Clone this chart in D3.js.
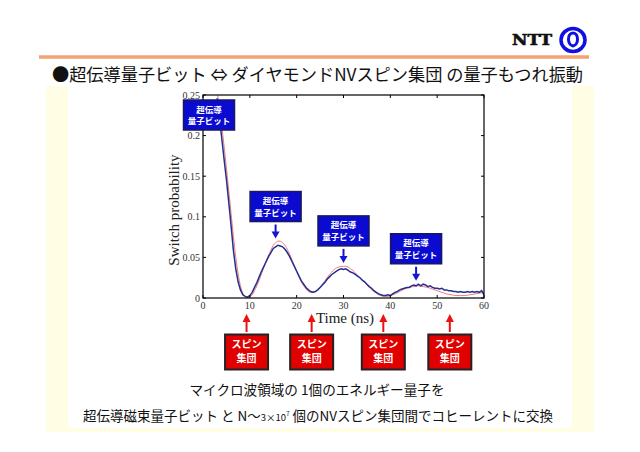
<!DOCTYPE html>
<html><head><meta charset="utf-8">
<script src="https://cdn.jsdelivr.net/npm/d3@7/dist/d3.min.js"></script>
<style>body{margin:0;background:#fff}svg{display:block}</style>
</head><body><svg id="c" width="640" height="452"></svg>
<script>
// ---- data ----
const timeBlue = [3.0,3.5,4.0,4.5,5.0,5.5,6.0,6.5,7.0,7.5,8.0,8.5,9.0,9.5,10.0,10.5,11.0,11.5,12.0,12.5,13.0,13.5,14.0,14.5,15.0,15.5,16.0,16.5,17.0,17.5,18.0,18.5,19.0,19.5,20.0,20.5,21.0,21.5,22.0,22.5,23.0,23.5,24.0,24.5,25.0,25.5,26.0,26.5,27.0,27.5,28.0,28.5,29.0,29.5,30.0,30.5,31.0,31.5,32.0,32.5,33.0,33.5,34.0,34.5,35.0,35.5,36.0,36.5,37.0,37.5,38.0,38.5,39.0,39.5,40.0,40.5,41.0,41.5,42.0,42.5,43.0,43.5,44.0,44.5,45.0,45.5,46.0,46.5,47.0,47.5,48.0,48.5,49.0,49.5,50.0,50.5,51.0,51.5,52.0,52.5,53.0,53.5,54.0,54.5,55.0,55.5,56.0,56.5,57.0,57.5,58.0,58.5,59.0,59.5,60.0];
const measured = [.246,.222,.197,.171,.146,.118,.089,.058,.036,.020,.010,.004,.002,.001,.003,.007,.013,.019,.026,.033,.039,.045,.051,.056,.061,.063,.065,.064,.063,.060,.056,.051,.045,.039,.033,.027,.021,.017,.013,.010,.008,.007,.008,.010,.013,.016,.019,.023,.026,.029,.031,.033,.035,.036,.035,.036,.034,.032,.031,.029,.027,.025,.022,.020,.017,.014,.012,.009,.007,.005,.004,.003,.003,.004,.003,.005,.007,.008,.010,.011,.012,.013,.013,.015,.016,.015,.017,.015,.017,.016,.014,.015,.013,.012,.012,.011,.012,.010,.010,.009,.009,.008,.008,.007,.008,.007,.007,.008,.007,.008,.007,.008,.007,.009,.004];
const timeRed = [3.0,3.5,4.0,4.5,5.0,5.5,6.0,6.5,7.0,7.5,8.0,8.5,9.0,9.5,10.0,10.5,11.0,11.5,12.0,12.5,13.0,13.5,14.0,14.5,15.0,15.5,16.0,16.5,17.0,17.5,18.0,18.5,19.0,19.5,20.0,20.5,21.0,21.5,22.0,22.5,23.0,23.5,24.0,24.5,25.0,25.5,26.0,26.5,27.0,27.5,28.0,28.5,29.0,29.5,30.0,30.5,31.0,31.5,32.0,32.5,33.0,33.5,34.0,34.5,35.0,35.5,36.0,36.5,37.0,37.5,38.0,38.5,39.0,39.5,40.0,41.0,42.0,43.0,44.0,45.0,46.0,47.0,48.0,49.0,50.0,51.0,52.0,53.0,54.0,55.0,56.0,57.0,58.0,59.0,60.0];
const theory = [.255,.235,.212,.187,.160,.132,.104,.076,.050,.030,.015,.006,.002,.000,.001,.004,.009,.015,.022,.030,.038,.046,.053,.059,.065,.068,.070,.070,.068,.065,.060,.054,.047,.040,.033,.026,.020,.015,.011,.008,.007,.007,.008,.010,.013,.017,.021,.025,.029,.032,.035,.037,.038,.039,.039,.039,.038,.036,.034,.031,.028,.025,.022,.019,.016,.013,.010,.008,.006,.004,.003,.002,.002,.002,.003,.005,.008,.011,.013,.014,.015,.014,.013,.011,.009,.007,.005,.004,.003,.003,.003,.004,.005,.006,.007];
const xTicks = [0,10,20,30,40,50,60];
const yTicks = [0,0.05,0.1,0.15,0.2,0.25];
const yTickLabels = ["0","0.05","0.1","0.15","0.2","0.25"];
const qubitLabel = ["超伝導","量子ビット"];
const qubitMarks = [{t:0, v:0.25}, {t:15.5, v:0.072}, {t:30, v:0.042}, {t:45.5, v:0.02}];
const spinLabel = ["スピン","集団"];
const spinMarks = [9.3, 23.2, 38.5, 52.7];
const title = "●超伝導量子ビット ⇔ ダイヤモンドNVスピン集団 の量子もつれ振動";

const svg = d3.select("#c");
const JP = "'Noto Sans CJK JP','Noto Sans CJK SC',sans-serif";
const SERIF = "'Liberation Serif','Times New Roman',serif";

// background panel
svg.append("rect").attr("x",46).attr("y",86).attr("width",548).attr("height",346).attr("fill","#fffde4");
svg.append("rect").attr("x",68).attr("y",86).attr("width",504).attr("height",342).attr("fill","#ffffff");

// header
svg.append("line").attr("x1",39).attr("x2",589).attr("y1",57).attr("y2",57).attr("stroke","#f2a273").attr("stroke-width",3.5);
svg.append("text").attr("x",532).attr("y",45).attr("text-anchor","middle").attr("font-family","'DejaVu Serif',serif").attr("font-weight","bold").attr("font-size",15).attr("fill","#111").attr("stroke","#111").attr("stroke-width",0.6).attr("textLength",40).attr("lengthAdjust","spacingAndGlyphs").text("NTT");
svg.append("ellipse").attr("cx",573).attr("cy",40).attr("rx",12).attr("ry",11.5).attr("fill","none").attr("stroke","#1010e0").attr("stroke-width",3.5);
svg.append("path").attr("d","M573,46 C567,45 567,33 573,33 C579,33 579,45 573,46 Z").attr("fill","none").attr("stroke","#1010e0").attr("stroke-width",3);

svg.append("text").attr("x",52).attr("y",81).attr("font-family",JP).attr("font-size",17.5).attr("fill","#111").attr("textLength",531).attr("lengthAdjust","spacingAndGlyphs").text(title);

// plot
const x = d3.scaleLinear().domain([0,60]).range([203,484]);
const y = d3.scaleLinear().domain([0,0.25]).range([298,95]);
const g = svg.append("g");
g.append("rect").attr("x",203).attr("y",95).attr("width",281).attr("height",203).attr("fill","#fff");
svg.append("clipPath").attr("id","clip").append("rect").attr("x",203).attr("y",95).attr("width",281).attr("height",203);

const line = d3.line().x(d=>x(d[0])).y(d=>y(d[1])).curve(d3.curveMonotoneX);
g.append("path").attr("clip-path","url(#clip)").attr("d",line(timeRed.map((t,i)=>[t,theory[i]]))).attr("fill","none").attr("stroke","#f07a7a").attr("stroke-width",1);
g.append("path").attr("clip-path","url(#clip)").attr("d",d3.line().x(d=>x(d[0])).y(d=>y(d[1]))(timeBlue.map((t,i)=>[t,measured[i]]))).attr("fill","none").attr("stroke","#24308f").attr("stroke-width",1.5);

// axes (inward ticks on all sides)
const ax = g.append("g").attr("font-family",SERIF).attr("font-size",10).attr("fill","#333");
xTicks.forEach(t=>{
  ax.append("line").attr("x1",x(t)).attr("x2",x(t)).attr("y1",298).attr("y2",295).attr("stroke","#000");
  ax.append("line").attr("x1",x(t)).attr("x2",x(t)).attr("y1",95).attr("y2",98).attr("stroke","#000");
  ax.append("text").attr("x",x(t)).attr("y",309).attr("text-anchor","middle").text(t);
});
yTicks.forEach((v,i)=>{
  ax.append("line").attr("x1",203).attr("x2",206).attr("y1",y(v)).attr("y2",y(v)).attr("stroke","#000");
  ax.append("line").attr("x1",484).attr("x2",481).attr("y1",y(v)).attr("y2",y(v)).attr("stroke","#000");
  ax.append("text").attr("x",200).attr("y",y(v)+3.5).attr("text-anchor","end").text(yTickLabels[i]);
});
g.append("rect").attr("x",203).attr("y",95).attr("width",281).attr("height",203).attr("fill","none").attr("stroke","#000").attr("stroke-width",1.2);
g.append("text").attr("x",345).attr("y",323).attr("text-anchor","middle").attr("font-family",SERIF).attr("font-size",15).attr("fill","#222").text("Time (ns)");
g.append("text").attr("transform","translate(179,210) rotate(-90)").attr("text-anchor","middle").attr("font-family",SERIF).attr("font-size",15).attr("fill","#222").text("Switch probability");

// qubit callouts
const bw=51, bh=30;
function box(cx, top, fill, lines){
  svg.append("rect").attr("x",cx-bw/2).attr("y",top).attr("width",bw).attr("height",bh).attr("fill",fill).attr("stroke","#1a1a5a").attr("stroke-width",1.5);
  lines.forEach((s,i)=>svg.append("text").attr("x",cx).attr("y",top+12.5+i*11.5).attr("text-anchor","middle").attr("font-family",JP).attr("font-weight","bold").attr("font-size",8.5).attr("fill","#fff").text(s));
}
qubitMarks.forEach((m,i)=>{
  const px = x(m.t), py = y(m.v);
  if(i===0){ box(209, 100, "#0a0ad0", qubitLabel); return; }
  const top = py - 48;
  box(px, top, "#0a0ad0", qubitLabel);
  svg.append("line").attr("x1",px).attr("x2",px).attr("y1",top+bh+3).attr("y2",py-6).attr("stroke","#1515d0").attr("stroke-width",2);
  svg.append("path").attr("d",`M${px-4},${py-8} L${px+4},${py-8} L${px},${py-1} Z`).attr("fill","#1515d0");
});
// spin callouts
spinMarks.forEach(t=>{
  const px = x(t);
  svg.append("line").attr("x1",px).attr("x2",px).attr("y1",332).attr("y2",320).attr("stroke","#ee1111").attr("stroke-width",2);
  svg.append("path").attr("d",`M${px-4},${322} L${px+4},${322} L${px},${314} Z`).attr("fill","#ee1111");
  svg.append("rect").attr("x",px-21.5).attr("y",334.5).attr("width",43).attr("height",35).attr("fill","#e00000").attr("stroke","#222").attr("stroke-width",2);
  spinLabel.forEach((s,i)=>svg.append("text").attr("x",px).attr("y",348+i*14).attr("text-anchor","middle").attr("font-family",JP).attr("font-weight","bold").attr("font-size",10).attr("fill","#fff").text(s));
});

// bottom text
svg.append("text").attr("x",317).attr("y",395).attr("text-anchor","middle").attr("font-family",JP).attr("font-size",13.6).attr("fill","#111").text("マイクロ波領域の 1個のエネルギー量子を");
const t2 = svg.append("text").attr("x",83).attr("y",421).attr("font-family",JP).attr("font-size",13.5).attr("fill","#111");
t2.append("tspan").text("超伝導磁束量子ビット と N～");
t2.append("tspan").attr("font-size",9.5).text("3×10");
t2.append("tspan").attr("font-size",6).attr("dy",-5).text("7");
t2.append("tspan").attr("dy",5).text(" 個のNVスピン集団間でコヒーレントに交換");
</script></body></html>
